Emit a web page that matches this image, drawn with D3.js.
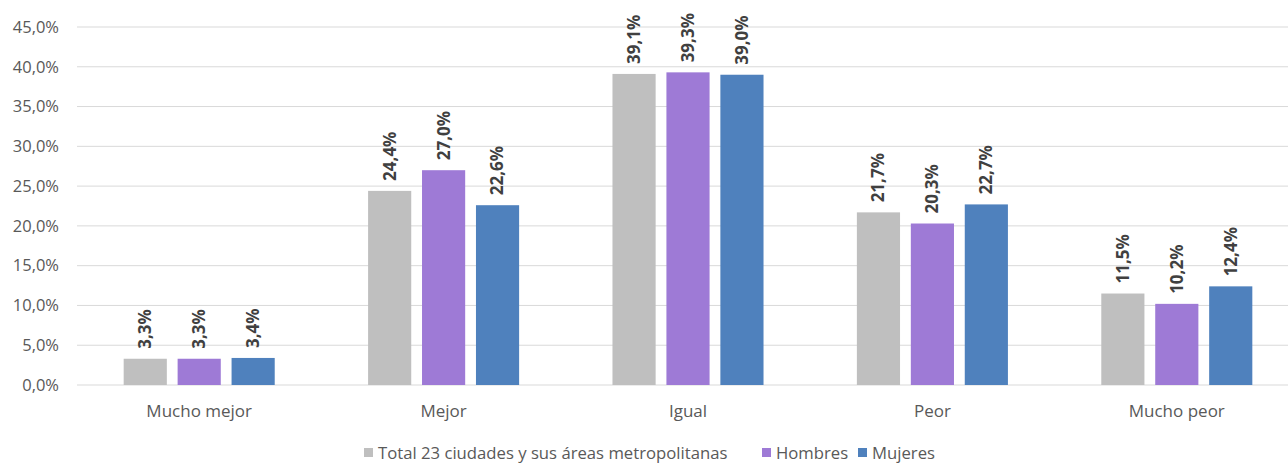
<!DOCTYPE html>
<html>
<head>
<meta charset="utf-8">
<script src="https://cdn.jsdelivr.net/npm/d3@7"></script>
<style>
  body { margin: 0; background: #fff; }
  text { font-family: "Open Sans", "Noto Sans", sans-serif; }
</style>
</head>
<body>
<svg id="chart" width="1288" height="463"></svg>
<script>
const categories = ['Mucho mejor', 'Mejor', 'Igual', 'Peor', 'Mucho peor']
const seriesNames = ['Total 23 ciudades y sus áreas metropolitanas', 'Hombres', 'Mujeres']
const totalValues = [3.3, 24.4, 39.1, 21.7, 11.5]
const hombresValues = [3.3, 27.0, 39.3, 20.3, 10.2]
const mujeresValues = [3.4, 22.6, 39.0, 22.7, 12.4]
const yTicks = [0, 5, 10, 15, 20, 25, 30, 35, 40, 45]
const colors = ['#bfbfbf', '#9e7ad6', '#4f81bd']

const series = [totalValues, hombresValues, mujeresValues]
const fmt = (v) => v.toFixed(1).replace('.', ',') + '%'

const svg = d3.select('#chart')
const margin = { left: 77, top: 27, bottom: 78 }
const height = 463

const y = d3.scaleLinear()
  .domain([0, 45])
  .range([height - margin.bottom, margin.top])

const x0 = d3.scaleBand()
  .domain(categories)
  .range([margin.left, margin.left + 5 * 244.4])
  .paddingInner(0.382)
  .paddingOuter(0.191)

const x1 = d3.scaleBand()
  .domain(d3.range(series.length))
  .range([0, x0.bandwidth()])
  .paddingInner(0.2)

// grid
svg.append('g')
  .selectAll('line')
  .data(yTicks)
  .join('line')
  .attr('x1', margin.left)
  .attr('x2', 1288)
  .attr('y1', (d) => y(d))
  .attr('y2', (d) => y(d))
  .attr('stroke', '#d9d9d9')
  .attr('stroke-width', 1)

// y labels
svg.append('g')
  .selectAll('text')
  .data(yTicks)
  .join('text')
  .attr('x', 59)
  .attr('y', (d) => y(d))
  .attr('dy', '0.35em')
  .attr('text-anchor', 'end')
  .attr('font-size', 16.5)
  .attr('fill', '#595959')
  .text((d) => d.toFixed(1).replace('.', ',') + '%')

// bars
const groups = svg.append('g')
  .selectAll('g')
  .data(categories)
  .join('g')
  .attr('transform', (d) => `translate(${x0(d)},0)`)

groups.selectAll('rect')
  .data((d, i) => series.map((s, j) => ({ j, v: s[i] })))
  .join('rect')
  .attr('x', (d) => x1(d.j))
  .attr('width', x1.bandwidth())
  .attr('y', (d) => y(d.v))
  .attr('height', (d) => y(0) - y(d.v))
  .attr('fill', (d) => colors[d.j])

groups.selectAll('text')
  .data((d, i) => series.map((s, j) => ({ j, v: s[i] })))
  .join('text')
  .attr('transform', (d) => `translate(${x1(d.j) + x1.bandwidth() / 2},${y(d.v) - 10}) rotate(-90)`)
  .attr('dy', '0.35em')
  .attr('font-size', 17)
  .attr('font-weight', 'bold')
  .attr('fill', '#404040')
  .text((d) => fmt(d.v))

// category labels
svg.append('g')
  .selectAll('text')
  .data(categories)
  .join('text')
  .attr('x', (d) => x0(d) + x0.bandwidth() / 2)
  .attr('y', 411)
  .attr('dy', '0.35em')
  .attr('text-anchor', 'middle')
  .attr('font-size', 17)
  .attr('fill', '#595959')
  .text((d) => d)

// legend
const legendX = [364, 762, 858]
const legend = svg.append('g')
  .selectAll('g')
  .data(seriesNames)
  .join('g')
  .attr('transform', (d, i) => `translate(${legendX[i]},453)`)

legend.append('rect')
  .attr('x', 0)
  .attr('y', -5)
  .attr('width', 9)
  .attr('height', 9)
  .attr('fill', (d, i) => colors[i])

legend.append('text')
  .attr('x', 14)
  .attr('dy', '0.35em')
  .attr('font-size', 16.7)
  .attr('fill', '#595959')
  .text((d) => d)
</script>
</body>
</html>
